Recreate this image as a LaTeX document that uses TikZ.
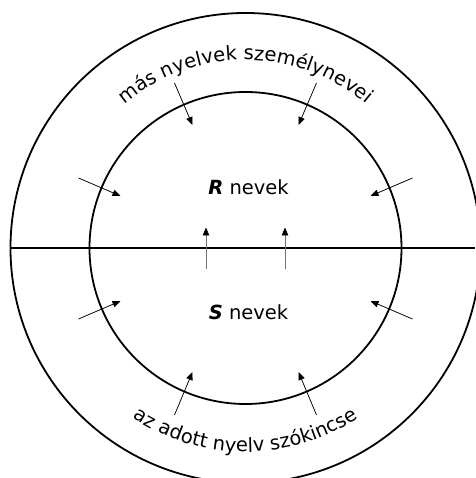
\documentclass[tikz,border=0pt]{standalone}
\usepackage{fontspec}
\setmainfont{DejaVu Sans}
\usetikzlibrary{arrows.meta,decorations.text}
\newcommand\lblfont{\fontsize{19.5}{23}\selectfont}
\tikzset{
  ring/.style={circle,draw,line width=1.8pt,inner sep=0pt},
  inarrow/.style={line width=0.75pt,-{Triangle[length=8pt,width=6.5pt]}},
  uparrow/.style={line width=0.75pt,draw=black!55,-{Triangle[length=8pt,width=6.5pt,color=black,fill=black]}},
  divider/.style={line width=1.8pt},
  lbl/.style={font=\lblfont,inner sep=0pt}
}
\begin{document}
\begin{tikzpicture}[x=1pt,y=1pt]
\useasboundingbox (-245.5,-230) rectangle (229.5,248);
\node[ring,minimum size=470pt] (outer) at (0,0) {};
\node[ring,minimum size=312pt] (inner) at (0,0) {};
\coordinate (rightedge) at (229.5,0);
\draw[divider] (outer.west) -- (rightedge);
\node[lbl] (R) at (3,61) {\textbf{\textit{R}} nevek};
\node[lbl] (S) at (3,-64) {\textbf{\textit{S}} nevek};
% arrows
\coordinate (tl1) at (-71,165); \coordinate (tl2) at (-53,123);
\coordinate (tr1) at (71,165);  \coordinate (tr2) at (53,123);
\coordinate (lu1) at (-167,70); \coordinate (lu2) at (-125,52);
\coordinate (ru1) at (167,70);  \coordinate (ru2) at (125,52);
\coordinate (ll1) at (-167,-71); \coordinate (ll2) at (-125,-53);
\coordinate (rl1) at (167,-71);  \coordinate (rl2) at (125,-53);
\coordinate (bl1) at (-71,-167); \coordinate (bl2) at (-53,-124);
\coordinate (br1) at (71,-167);  \coordinate (br2) at (53,-124);
\coordinate (cl1) at (-39.5,-21); \coordinate (cl2) at (-39.5,20.5);
\coordinate (cr1) at (39.5,-21);  \coordinate (cr2) at (39.5,20.5);
\foreach \a in {tl,tr,lu,ru,ll,rl,bl,br} \draw[inarrow] (\a1) -- (\a2);
\draw[uparrow] (cl1) -- (cl2);
\draw[uparrow] (cr1) -- (cr2);
% curved labels
\path[decorate,decoration={text along path,text align=center,
  text={|\lblfont|más nyelvek személynevei}}] (165:188) arc (165:15:188);
\path[decorate,decoration={text along path,text align=center,
  text={|\lblfont|az adott nyelv szókincse}}] (195:204) arc (195:345:204);
\end{tikzpicture}
\end{document}
